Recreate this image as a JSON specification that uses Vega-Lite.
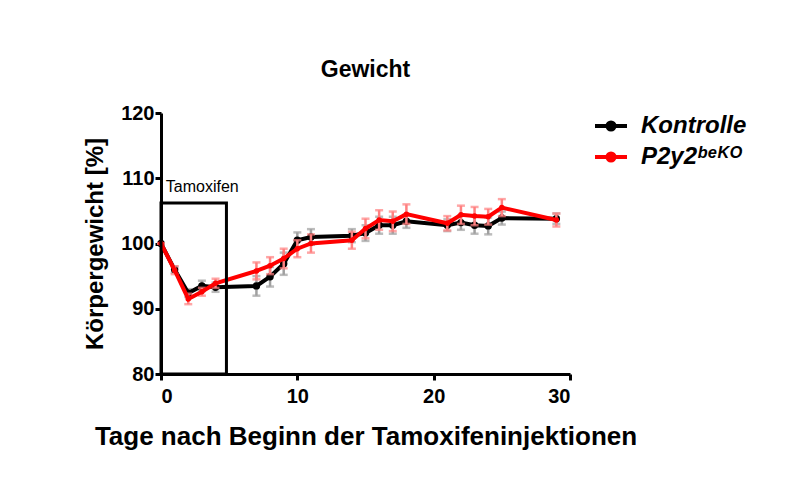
{
  "$schema": "https://vega.github.io/schema/vega-lite/v6.json",
  "width": 409,
  "height": 261,
  "autosize": "none",
  "padding": {"left": 161, "top": 113, "right": 226, "bottom": 122},
  "background": "white",
  "title": {"text": "Gewicht", "font": "Liberation Sans", "fontSize": 23, "fontWeight": "bold", "color": "black", "anchor": "middle", "offset": 21},
  "config": {
    "view": {"stroke": null},
    "axis": {
      "grid": false, "domainColor": "black", "domainWidth": 3, "tickColor": "black", "tickWidth": 3, "tickSize": 6,
      "labelFont": "Liberation Sans", "labelFontWeight": "bold", "labelFontSize": 20, "labelColor": "black",
      "titleFont": "Liberation Sans", "titleFontWeight": "bold", "titleFontSize": 26, "titleColor": "black"
    }
  },
  "datasets": {
    "weights": [
      {"day": 0, "series": "Kontrolle", "mean": 100.0, "sem": 0.0},
      {"day": 1, "series": "Kontrolle", "mean": 96.0, "sem": 0.5},
      {"day": 2, "series": "Kontrolle", "mean": 92.4, "sem": 0.6},
      {"day": 3, "series": "Kontrolle", "mean": 93.5, "sem": 0.8},
      {"day": 4, "series": "Kontrolle", "mean": 93.3, "sem": 0.7},
      {"day": 7, "series": "Kontrolle", "mean": 93.5, "sem": 1.5},
      {"day": 8, "series": "Kontrolle", "mean": 94.9, "sem": 1.5},
      {"day": 9, "series": "Kontrolle", "mean": 96.9, "sem": 1.7},
      {"day": 10, "series": "Kontrolle", "mean": 100.5, "sem": 1.2},
      {"day": 11, "series": "Kontrolle", "mean": 101.0, "sem": 1.2},
      {"day": 14, "series": "Kontrolle", "mean": 101.2, "sem": 1.0},
      {"day": 15, "series": "Kontrolle", "mean": 101.6, "sem": 1.2},
      {"day": 16, "series": "Kontrolle", "mean": 102.8, "sem": 1.3},
      {"day": 17, "series": "Kontrolle", "mean": 102.8, "sem": 1.3},
      {"day": 18, "series": "Kontrolle", "mean": 103.4, "sem": 1.0},
      {"day": 21, "series": "Kontrolle", "mean": 102.8, "sem": 0.9},
      {"day": 22, "series": "Kontrolle", "mean": 103.2, "sem": 1.1},
      {"day": 23, "series": "Kontrolle", "mean": 102.8, "sem": 1.3},
      {"day": 24, "series": "Kontrolle", "mean": 102.7, "sem": 1.3},
      {"day": 25, "series": "Kontrolle", "mean": 103.9, "sem": 1.0},
      {"day": 29, "series": "Kontrolle", "mean": 103.8, "sem": 0.8},
      {"day": 0, "series": "P2y2ᵇᵉᴷᴼ", "mean": 100.0, "sem": 0.0},
      {"day": 1, "series": "P2y2ᵇᵉᴷᴼ", "mean": 95.9, "sem": 0.6},
      {"day": 2, "series": "P2y2ᵇᵉᴷᴼ", "mean": 91.5, "sem": 0.8},
      {"day": 3, "series": "P2y2ᵇᵉᴷᴼ", "mean": 92.6, "sem": 0.6},
      {"day": 4, "series": "P2y2ᵇᵉᴷᴼ", "mean": 93.9, "sem": 0.7},
      {"day": 7, "series": "P2y2ᵇᵉᴷᴼ", "mean": 95.8, "sem": 1.3},
      {"day": 8, "series": "P2y2ᵇᵉᴷᴼ", "mean": 96.6, "sem": 1.3},
      {"day": 9, "series": "P2y2ᵇᵉᴷᴼ", "mean": 97.7, "sem": 1.5},
      {"day": 10, "series": "P2y2ᵇᵉᴷᴼ", "mean": 99.2, "sem": 1.3},
      {"day": 11, "series": "P2y2ᵇᵉᴷᴼ", "mean": 100.0, "sem": 1.4},
      {"day": 14, "series": "P2y2ᵇᵉᴷᴼ", "mean": 100.5, "sem": 1.3},
      {"day": 15, "series": "P2y2ᵇᵉᴷᴼ", "mean": 102.3, "sem": 1.5},
      {"day": 16, "series": "P2y2ᵇᵉᴷᴼ", "mean": 103.6, "sem": 1.5},
      {"day": 17, "series": "P2y2ᵇᵉᴷᴼ", "mean": 103.4, "sem": 1.5},
      {"day": 18, "series": "P2y2ᵇᵉᴷᴼ", "mean": 104.5, "sem": 1.5},
      {"day": 21, "series": "P2y2ᵇᵉᴷᴼ", "mean": 103.1, "sem": 1.1},
      {"day": 22, "series": "P2y2ᵇᵉᴷᴼ", "mean": 104.4, "sem": 1.4},
      {"day": 23, "series": "P2y2ᵇᵉᴷᴼ", "mean": 104.2, "sem": 1.4},
      {"day": 24, "series": "P2y2ᵇᵉᴷᴼ", "mean": 104.1, "sem": 1.2},
      {"day": 25, "series": "P2y2ᵇᵉᴷᴼ", "mean": 105.5, "sem": 1.3},
      {"day": 29, "series": "P2y2ᵇᵉᴷᴼ", "mean": 103.6, "sem": 1.0}
    ],
    "box": [{"start": 0, "end": 4.8, "bottom": 80, "top": 106.2, "label": "Tamoxifen", "lx": 0.35, "ly": 108.6}]
  },
  "encoding": {
    "x": {"type": "quantitative", "scale": {"domain": [0, 30], "nice": false}, "axis": {"values": [0, 10, 20, 30], "title": "Tage nach Beginn der Tamoxifeninjektionen", "titlePadding": 17, "labelPadding": 6}},
    "y": {"type": "quantitative", "scale": {"domain": [80, 120], "nice": false, "zero": false}, "axis": {"values": [80, 90, 100, 110, 120], "title": "Körpergewicht [%]", "titleFontSize": 24, "titlePadding": 13, "labelPadding": 1}}
  },
  "layer": [
    {
      "data": {"name": "weights"},
      "transform": [{"filter": "datum.series === 'Kontrolle'"}],
      "mark": {"type": "errorbar", "ticks": {"size": 8, "thickness": 2.5}, "rule": {"strokeWidth": 2.5}, "color": "#a0a0a0"},
      "encoding": {"x": {"field": "day", "type": "quantitative"}, "y": {"field": "mean", "type": "quantitative"}, "yError": {"field": "sem"}}
    },
    {
      "data": {"name": "weights"},
      "transform": [{"filter": "datum.series === 'Kontrolle'"}],
      "mark": {"type": "line", "strokeWidth": 4, "point": {"filled": true, "size": 55}},
      "encoding": {
        "x": {"field": "day", "type": "quantitative"},
        "y": {"field": "mean", "type": "quantitative"},
        "color": {"field": "series", "type": "nominal", "scale": {"domain": ["Kontrolle", "P2y2ᵇᵉᴷᴼ"], "range": ["#000000", "#ff0000"]},
          "legend": {"title": null, "orient": "none", "legendX": 432, "legendY": -5, "symbolType": "M-1,0H1M-0.22,0A0.22,0.22,0,1,1,0.22,0A0.22,0.22,0,1,1,-0.22,0", "symbolSize": 1024, "symbolStrokeWidth": 4, "labelFont": "Liberation Sans", "labelFontSize": 24, "labelFontWeight": "bold", "labelFontStyle": "italic", "labelColor": "black", "labelOffset": 12, "rowPadding": 1, "labelLimit": 300}}
      }
    },
    {
      "data": {"name": "weights"},
      "transform": [{"filter": "datum.series !== 'Kontrolle'"}],
      "mark": {"type": "errorbar", "ticks": {"size": 8, "thickness": 2.5}, "rule": {"strokeWidth": 2.5}, "color": "#ff8080"},
      "encoding": {"x": {"field": "day", "type": "quantitative"}, "y": {"field": "mean", "type": "quantitative"}, "yError": {"field": "sem"}}
    },
    {
      "data": {"name": "weights"},
      "transform": [{"filter": "datum.series !== 'Kontrolle'"}],
      "mark": {"type": "line", "strokeWidth": 4, "point": {"filled": true, "size": 30}},
      "encoding": {
        "x": {"field": "day", "type": "quantitative"},
        "y": {"field": "mean", "type": "quantitative"},
        "color": {"field": "series", "type": "nominal"}
      }
    },
    {
      "data": {"name": "box"},
      "mark": {"type": "rect", "fill": null, "fillOpacity": 0, "stroke": "black", "strokeWidth": 3},
      "encoding": {"x": {"field": "start", "type": "quantitative"}, "x2": {"field": "end"}, "y": {"field": "bottom", "type": "quantitative"}, "y2": {"field": "top"}}
    },
    {
      "data": {"name": "box"},
      "mark": {"type": "text", "align": "left", "baseline": "middle", "font": "Liberation Sans", "fontSize": 16, "color": "black"},
      "encoding": {"x": {"field": "lx", "type": "quantitative"}, "y": {"field": "ly", "type": "quantitative"}, "text": {"field": "label"}}
    }
  ]
}
